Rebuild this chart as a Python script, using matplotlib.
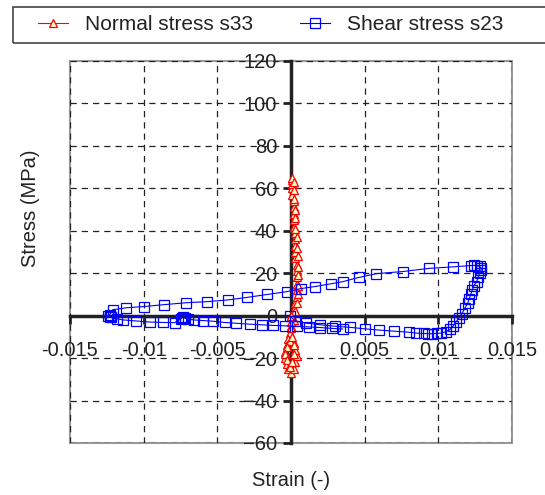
import matplotlib
matplotlib.use("Agg")
import matplotlib.pyplot as plt
from matplotlib.patches import Rectangle

plt.rcParams['font.family'] = ['Liberation Sans', 'DejaVu Sans']

# normal stress s33 (strain, MPa)
normal_strain = [0.0000, 0.0002, 0.0003, 0.0004, 0.0004, 0.0004, 0.0004, 0.0004, 0.0004, 0.0003,
                 0.0003, 0.0003, 0.0003, 0.0003, 0.0002, 0.0002, 0.0002, 0.0002, 0.0002, 0.0001,
                 0.0001, 0.0001, 0.0001, 0.0001, 0.0002, 0.0002, 0.0002, 0.0003, 0.0003, 0.0003,
                 0.0004, 0.0004, 0.0005, 0.0005, 0.0005, 0.0005, 0.0005, 0.0004, 0.0003, 0.0002,
                 0.0000, -0.0001, -0.0002, -0.0003, -0.0004, -0.0004, -0.0003, -0.0002, 0.0000, 0.0002,
                 0.0003, 0.0004, 0.0003, 0.0002, -0.0001, -0.0003, -0.0004, -0.0003, -0.0001, 0.0001,
                 0.0002, 0.0002, 0.0001, 0.0000, 0.0000, 0.0000]
normal_stress = [0, 3, 6, 9, 12, 15, 18, 21, 24, 27,
                 30, 33, 36, 39, 42, 45, 48, 51, 54, 57,
                 60, 62, 64, 65, 63, 59, 55, 50, 46, 41,
                 37, 32, 28, 23, 19, 14, 10, 6, 2, -2,
                 -5, -8, -11, -14, -17, -20, -23, -25, -27, -25,
                 -22, -19, -16, -13, -12, -15, -18, -21, -24, -22,
                 -18, -14, -10, -6, -3, 0]

# shear stress s23 (strain, MPa)
shear_strain = [-0.0001, 0.0003, 0.0010, 0.0020, 0.0030, 0.0040, 0.0050, 0.0060, 0.0070, 0.0080,
                0.0085, 0.0090, 0.0093, 0.0096, 0.0099, 0.0102, 0.0105, 0.0108, 0.0110, 0.0112,
                0.0114, 0.0116, 0.0118, 0.0120, 0.0121, 0.0122, 0.0123, 0.0124, 0.0126, 0.0127,
                0.0128, 0.0129, 0.0129, 0.0128, 0.0126, 0.0124, 0.0122,
                0.0110, 0.0094, 0.0076, 0.0058, 0.0046, 0.0035, 0.0027, 0.0016, 0.0007, -0.0003,
                -0.0016, -0.0030, -0.0043, -0.0057, -0.0071, -0.0086, -0.0100, -0.0112, -0.0121,
                -0.0123, -0.0123, -0.0124, -0.0123, -0.0122,
                -0.0118, -0.0114, -0.0105, -0.0096, -0.0087, -0.0079,
                -0.0075, -0.0074, -0.0073, -0.0072, -0.0070,
                -0.0066, -0.0060, -0.0053, -0.0045, -0.0037, -0.0028, -0.0020, -0.0012, -0.0004, 0.0004,
                0.0012, 0.0020, 0.0028, 0.0035]
shear_stress = [0.0, -2.5, -3.5, -4.3, -5.0, -5.5, -6.2, -6.8, -7.3, -7.8,
                -8.2, -8.4, -8.5, -8.5, -8.4, -8.2, -7.6, -6.5, -5.0, -3.0,
                -1.0, 1.0, 3.5, 6.0, 8.0, 10.0, 12.0, 14.0, 16.0, 18.0,
                20.0, 21.5, 22.5, 23.2, 23.6, 23.7, 23.6,
                23.0, 22.3, 20.8, 19.8, 18.0, 16.0, 15.0, 13.7, 12.8, 11.3,
                10.0, 8.6, 7.4, 6.6, 6.1, 5.2, 4.3, 3.7, 2.8,
                0.5, 0.0, -0.3, -0.6, -0.8,
                -1.5, -2.0, -2.5, -3.0, -3.2, -3.3,
                -1.5, -1.0, -0.6, -1.2, -1.6,
                -2.0, -2.3, -2.6, -3.2, -3.6, -4.0, -4.3, -4.6, -4.8, -5.0,
                -5.3, -5.6, -6.0, -6.3]

x_ticks = [-0.015, -0.01, -0.005, 0, 0.005, 0.01, 0.015]
x_labels = ['-0.015', '-0.01', '-0.005', '0', '0.005', '0.01', '0.015']
y_ticks = [-60, -40, -20, 0, 20, 40, 60, 80, 100, 120]

fig = plt.figure(figsize=(5.45, 4.95), dpi=100)
ax = fig.add_axes([70 / 545, 1 - 443 / 495, 442 / 545, 382 / 495])

ax.plot(normal_strain, normal_stress, color='red', lw=0.8, marker='^', ms=6,
        mfc='#ffffcc', mec='red', mew=0.9, label='Normal stress s33', zorder=3)
ax.plot(shear_strain, shear_stress, color='blue', lw=0.8, marker='s', ms=6.5,
        mfc='none', mec='blue', mew=0.9, label='Shear stress s23', zorder=4)

ax.set_xlim(-0.015, 0.015)
ax.set_ylim(-60, 120)
ax.set_xticks(x_ticks)
ax.set_xticklabels(x_labels)
ax.set_yticks(y_ticks)
ax.grid(True, ls=(0, (5, 4)), color='#222222', lw=0.9)

for side in ['left', 'bottom']:
    ax.spines[side].set_position('zero')
    ax.spines[side].set_color('#222222')
    ax.spines[side].set_linewidth(2.5)
    ax.spines[side].set_zorder(2.5)
for side in ['top', 'right']:
    ax.spines[side].set_visible(False)
ax.add_patch(Rectangle((0, 0), 1, 1, transform=ax.transAxes, fill=False,
                       ec='#999999', lw=1.5, clip_on=False, zorder=1))

ax.tick_params(axis='both', direction='out', length=6, width=2, colors='#222222',
               labelsize=14.5, labelcolor='#222222')
ax.tick_params(axis='x', pad=12)
ax.tick_params(axis='y', pad=4)

fig.text(291 / 545, 1 - 481 / 495, 'Strain (-)', ha='center', va='center',
         fontsize=14.5, color='#222222')
fig.text(30 / 545, 1 - 208 / 495, 'Stress (MPa)', ha='center', va='center',
         rotation=90, fontsize=14.5, color='#222222')

# legend box runs past the right edge, as in the original
fig.patches.append(Rectangle((13 / 545, 1 - 43 / 495), 0.99, 36 / 495, transform=fig.transFigure,
                             fill=False, ec='#444444', lw=1.2))
leg = fig.legend(loc='center left', bbox_to_anchor=(38 / 545, 1 - 25 / 495),
                 ncol=2, fontsize=15, frameon=False, handlelength=1.45,
                 handletextpad=0.8, columnspacing=2.25, borderpad=0, borderaxespad=0)
for t in leg.get_texts():
    t.set_color('#222222')

fig.savefig('out.png', dpi=100)
